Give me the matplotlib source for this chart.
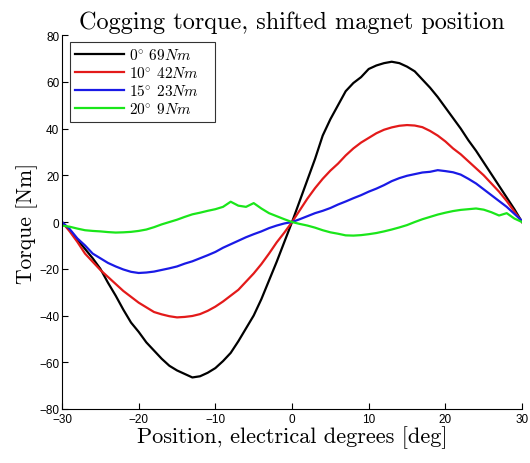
import numpy as np
import matplotlib
matplotlib.use("Agg")
import matplotlib.pyplot as plt

plt.rcParams["mathtext.fontset"] = "cm"

# Electrical position [deg]
position = np.arange(-30, 31, 1)

# Cogging torque [Nm] for each magnet shift
torque_0 = [0, -3.5, -7.5, -11.5, -15.5, -20, -26, -31.5, -37.5, -43, -47, -51.5, -55, -58.5,
            -61.5, -63.5, -65, -66.5, -66, -64.5, -62.5, -59.5, -56, -51, -45.5, -40, -33, -25,
            -17, -8.5, 0, 9, 18, 27, 37, 44, 50, 56, 59.5, 62, 65.5, 67, 68, 68.6, 68, 66.5, 64.5,
            61, 57.5, 53.5, 49, 44.5, 40, 35, 30.5, 25.5, 20.5, 15.5, 10.5, 5.5, 0]
torque_10 = [0, -4, -8.5, -13.5, -17, -20.5, -23.5, -26.5, -29.5, -32, -34.5, -36.5, -38.5, -39.5,
             -40.3, -40.8, -40.6, -40.2, -39.4, -38, -36.2, -34, -31.5, -29, -25.5, -22, -18, -13.5,
             -8.7, -4.5, 0, 5, 10, 14.5, 18.5, 22, 25, 28.5, 31.5, 34, 36, 38, 39.5, 40.5, 41.2, 41.5,
             41.3, 40.6, 39, 37, 34.5, 31.5, 29, 26, 23, 20, 16.5, 13, 9, 4.5, 0]
torque_15 = [0, -3, -7, -10, -13.5, -15.5, -17.5, -19, -20.3, -21.3, -21.8, -21.6, -21.2, -20.5,
             -19.8, -19, -17.8, -16.8, -15.5, -14.2, -12.8, -11, -9.5, -8, -6.5, -5.2, -4, -2.6,
             -1.5, -0.6, 0, 1.2, 2.5, 3.8, 4.8, 6, 7.5, 8.8, 10.2, 11.5, 13, 14.3, 15.8, 17.5, 18.8,
             19.8, 20.5, 21.2, 21.5, 22.2, 21.8, 21.3, 20.3, 18.5, 16.5, 14, 11.5, 9, 6.5, 3.5, 0.5]
torque_20 = [-1.5, -2, -2.8, -3.5, -3.8, -4, -4.3, -4.5, -4.4, -4.2, -3.8, -3.2, -2.2, -1, 0, 1,
             2.2, 3.3, 4, 4.8, 5.5, 6.5, 8.7, 7, 6.5, 8.1, 5.8, 3.8, 2.5, 1.2, 0, -0.8, -1.5, -2.4,
             -3.5, -4.4, -5, -5.7, -5.8, -5.6, -5.2, -4.7, -4, -3.2, -2.3, -1.3, 0, 1.2, 2.2, 3.2, 4,
             4.7, 5.2, 5.5, 5.8, 5.3, 4.2, 2.8, 3.8, 1.5, 0]

series = [torque_0, torque_10, torque_15, torque_20]
labels = ["0$^{\\circ}$ 69$Nm$", "10$^{\\circ}$ 42$Nm$", "15$^{\\circ}$ 23$Nm$", "20$^{\\circ}$ 9$Nm$"]
colors = ["#000000", "#e31a1a", "#1a1ae6", "#1ae61a"]

x_ticks = [-30, -20, -10, 0, 10, 20, 30]
y_ticks = [-80, -60, -40, -20, 0, 20, 40, 60, 80]

serif = ["cmr10", "DejaVu Serif"]

fig = plt.figure(figsize=(5.3, 4.64), dpi=100)
ax = fig.add_axes([0.117, 0.1164, 0.868, 0.8058])

for y, lab, c in zip(series, labels, colors):
    # trailing no-break spaces leave room on the right of the legend box
    ax.plot(position, y, color=c, lw=1.6, label=lab + "\u00a0\u00a0\u00a0")

ax.set_xlim(-30, 30)
ax.set_ylim(-80, 80)
ax.set_xticks(x_ticks)
ax.set_yticks(y_ticks)
for lbl in ax.get_xticklabels() + ax.get_yticklabels():
    lbl.set_fontfamily("Liberation Sans")
    lbl.set_fontsize(8.5)
ax.tick_params(axis="y", direction="in", length=4, width=0.8, pad=2)
ax.tick_params(axis="x", direction="in", length=4, width=0.8, pad=3)
ax.spines["top"].set_visible(False)
ax.spines["right"].set_visible(False)

ax.set_title("Cogging torque, shifted magnet position", family=serif, fontsize=17.5, pad=5)
ax.set_xlabel("Position, electrical degrees [deg]", family=serif, fontsize=16, labelpad=0)
ax.set_ylabel("Torque [Nm]", family=serif, fontsize=15.5, labelpad=1)

leg = ax.legend(loc="upper left", bbox_to_anchor=(0.017, 0.982), prop={"family": serif, "size": 11},
                frameon=True, fancybox=False, edgecolor="black", handlelength=3.2,
                handletextpad=0.35, labelspacing=0.2, borderpad=0.35, borderaxespad=0.0)
leg.get_frame().set_linewidth(0.8)

fig.savefig("out.png", dpi=100)
